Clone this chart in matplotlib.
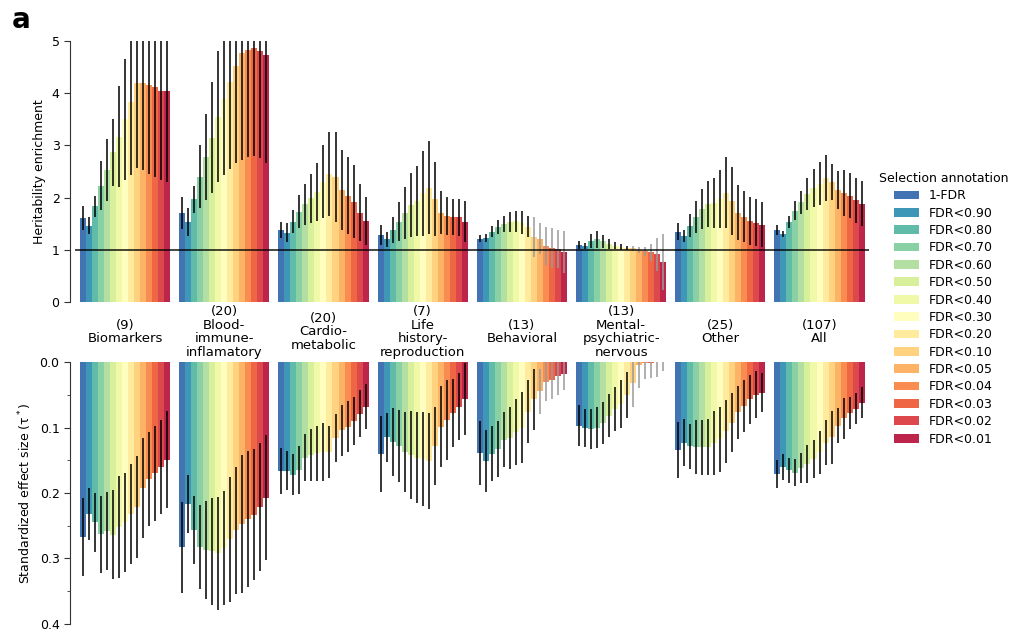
import numpy as np
import matplotlib.pyplot as plt
from matplotlib.patches import Patch
from matplotlib.transforms import blended_transform_factory

groups = ["(9)\nBiomarkers", "(20)\nBlood-\nimmune-\ninflamatory", "(20)\nCardio-\nmetabolic",
          "(7)\nLife\nhistory-\nreproduction", "(13)\nBehavioral",
          "(13)\nMental-\npsychiatric-\nnervous", "(25)\nOther", "(107)\nAll"]
annotations = ["1-FDR", "FDR<0.90", "FDR<0.80", "FDR<0.70", "FDR<0.60", "FDR<0.50",
               "FDR<0.40", "FDR<0.30", "FDR<0.20", "FDR<0.10", "FDR<0.05", "FDR<0.04",
               "FDR<0.03", "FDR<0.02", "FDR<0.01"]

# heritability enrichment (top)
enrichment = [
    [1.60, 1.46, 1.83, 2.23, 2.53, 2.87, 3.17, 3.50, 3.84, 4.20, 4.20, 4.16, 4.12, 4.04, 4.04],
    [1.71, 1.54, 1.97, 2.40, 2.78, 3.15, 3.55, 3.89, 4.22, 4.52, 4.78, 4.83, 4.86, 4.81, 4.73],
    [1.38, 1.33, 1.54, 1.73, 1.87, 1.99, 2.11, 2.30, 2.45, 2.39, 2.15, 2.04, 1.92, 1.71, 1.56],
    [1.28, 1.20, 1.38, 1.54, 1.70, 1.86, 1.94, 2.08, 2.19, 1.97, 1.71, 1.65, 1.63, 1.62, 1.54],
    [1.21, 1.22, 1.35, 1.44, 1.49, 1.53, 1.55, 1.52, 1.44, 1.25, 1.21, 1.07, 1.03, 1.01, 0.96],
    [1.09, 1.07, 1.17, 1.20, 1.16, 1.11, 1.08, 1.06, 1.04, 1.03, 1.00, 0.97, 0.95, 0.91, 0.77],
    [1.35, 1.26, 1.46, 1.63, 1.78, 1.88, 1.89, 1.97, 2.09, 1.93, 1.71, 1.63, 1.55, 1.52, 1.48],
    [1.38, 1.30, 1.53, 1.75, 1.91, 2.07, 2.18, 2.27, 2.37, 2.30, 2.15, 2.08, 2.04, 1.95, 1.88],
]
enrichment_err = [
    [0.23, 0.16, 0.21, 0.47, 0.60, 0.64, 0.96, 1.16, 1.41, 1.63, 1.67, 1.71, 1.72, 1.70, 1.75],
    [0.31, 0.27, 0.26, 0.60, 0.82, 1.07, 1.26, 1.46, 1.68, 1.86, 2.06, 2.05, 2.06, 2.06, 2.06],
    [0.16, 0.18, 0.22, 0.32, 0.40, 0.47, 0.56, 0.70, 0.80, 0.86, 0.77, 0.73, 0.70, 0.55, 0.46],
    [0.19, 0.14, 0.25, 0.37, 0.50, 0.62, 0.67, 0.82, 0.89, 0.71, 0.41, 0.36, 0.35, 0.36, 0.40],
    [0.07, 0.08, 0.11, 0.13, 0.15, 0.19, 0.20, 0.22, 0.20, 0.38, 0.30, 0.37, 0.38, 0.36, 0.40],
    [0.08, 0.06, 0.14, 0.16, 0.12, 0.10, 0.07, 0.06, 0.035, 0.05, 0.06, 0.09, 0.17, 0.31, 0.54],
    [0.17, 0.12, 0.22, 0.30, 0.39, 0.44, 0.48, 0.56, 0.68, 0.65, 0.53, 0.49, 0.46, 0.45, 0.43],
    [0.09, 0.06, 0.12, 0.18, 0.22, 0.30, 0.36, 0.41, 0.44, 0.35, 0.36, 0.44, 0.44, 0.43, 0.43],
]

# standardized effect size tau* (bottom)
tau_star = [
    [0.267, 0.232, 0.245, 0.263, 0.258, 0.264, 0.252, 0.245, 0.232, 0.221, 0.192, 0.179, 0.170, 0.160, 0.149],
    [0.283, 0.217, 0.256, 0.282, 0.287, 0.289, 0.292, 0.284, 0.271, 0.257, 0.247, 0.240, 0.233, 0.221, 0.207],
    [0.166, 0.166, 0.172, 0.165, 0.146, 0.142, 0.139, 0.137, 0.137, 0.116, 0.104, 0.099, 0.090, 0.079, 0.068],
    [0.141, 0.115, 0.122, 0.128, 0.138, 0.142, 0.146, 0.148, 0.151, 0.128, 0.099, 0.088, 0.078, 0.068, 0.057],
    [0.139, 0.151, 0.140, 0.133, 0.119, 0.116, 0.107, 0.100, 0.076, 0.057, 0.045, 0.030, 0.027, 0.022, 0.018],
    [0.097, 0.101, 0.102, 0.100, 0.093, 0.082, 0.072, 0.064, 0.050, 0.032, 0.005, 0.002, 0.001, 0.000, -0.004],
    [0.134, 0.123, 0.129, 0.130, 0.130, 0.130, 0.124, 0.118, 0.106, 0.093, 0.077, 0.067, 0.057, 0.050, 0.047],
    [0.171, 0.160, 0.165, 0.169, 0.162, 0.156, 0.148, 0.138, 0.123, 0.115, 0.097, 0.086, 0.078, 0.071, 0.062],
]
tau_star_err = [
    [0.059, 0.040, 0.045, 0.059, 0.060, 0.068, 0.078, 0.076, 0.076, 0.078, 0.076, 0.072, 0.072, 0.072, 0.074],
    [0.069, 0.044, 0.052, 0.064, 0.075, 0.082, 0.086, 0.087, 0.095, 0.097, 0.105, 0.104, 0.100, 0.098, 0.096],
    [0.035, 0.030, 0.031, 0.037, 0.036, 0.039, 0.042, 0.044, 0.040, 0.037, 0.039, 0.039, 0.037, 0.036, 0.035],
    [0.058, 0.037, 0.052, 0.055, 0.061, 0.067, 0.070, 0.072, 0.073, 0.060, 0.062, 0.061, 0.052, 0.051, 0.055],
    [0.049, 0.047, 0.042, 0.043, 0.042, 0.047, 0.050, 0.054, 0.048, 0.047, 0.035, 0.030, 0.030, 0.028, 0.025],
    [0.031, 0.029, 0.031, 0.032, 0.032, 0.033, 0.034, 0.036, 0.035, 0.036, 0.035, 0.024, 0.024, 0.023, 0.018],
    [0.043, 0.036, 0.035, 0.041, 0.042, 0.043, 0.049, 0.050, 0.048, 0.045, 0.040, 0.040, 0.037, 0.036, 0.030],
    [0.022, 0.020, 0.019, 0.021, 0.023, 0.029, 0.029, 0.033, 0.035, 0.040, 0.027, 0.031, 0.025, 0.024, 0.024],
]

# index of first non-significant (grey error bar) annotation per group
grey_top_from = [15, 15, 15, 15, 9, 9, 15, 15]
grey_bot_from = [15, 15, 15, 15, 10, 9, 15, 15]

colors = plt.get_cmap("Spectral_r")(np.linspace(0, 1, len(annotations) + 2)[1:-1])
n = len(annotations)
step = 16.5

fig = plt.figure(figsize=(10.1, 6.34), dpi=100)
ax1 = fig.add_axes([0.0693, 0.5237, 0.7927, 0.4116])
ax2 = fig.add_axes([0.0693, 0.0158, 0.7927, 0.4132])

for g in range(len(groups)):
    xs = g * step + np.arange(n)
    ax1.bar(xs, enrichment[g], width=1.0, color=colors, linewidth=0)
    ax2.bar(xs, tau_star[g], width=1.0, color=colors, linewidth=0)
    for i in range(n):
        c1 = "#9a9a9a" if i >= grey_top_from[g] else "black"
        c2 = "#9a9a9a" if i >= grey_bot_from[g] else "black"
        ax1.errorbar(xs[i], enrichment[g][i], yerr=enrichment_err[g][i], fmt="none",
                     ecolor=c1, elinewidth=1.3, alpha=0.85, capsize=0)
        ax2.errorbar(xs[i], tau_star[g][i], yerr=tau_star_err[g][i], fmt="none",
                     ecolor=c2, elinewidth=1.3, alpha=0.85, capsize=0)

xmin, xmax = -2.16, 131.0
ax1.hlines(1, -1.3, 130.8, color="black", lw=1.2, alpha=0.85, zorder=5)

ax1.set_xlim(xmin, xmax)
ax1.set_ylim(0, 5)
ax1.set_yticks([0, 1, 2, 3, 4, 5])
ax1.set_ylabel("Heritability enrichment", fontsize=9)

ax2.set_xlim(xmin, xmax)
ax2.set_ylim(0.4, 0)
ax2.set_yticks([0.0, 0.1, 0.2, 0.3, 0.4])
ax2.set_yticks(np.arange(0.05, 0.4, 0.1), minor=True)
ax2.set_ylabel("Standardized effect size (τ$^*$)", fontsize=9)

for ax in (ax1, ax2):
    for s in ("top", "right", "bottom"):
        ax.spines[s].set_visible(False)
    ax.spines["left"].set_color("#333333")
    ax.set_xticks([])
    ax.tick_params(axis="y", labelsize=9, length=4, color="#333333")
    ax.tick_params(axis="y", which="minor", length=2, color="#333333")

trans = blended_transform_factory(ax1.transData, ax1.transAxes)
for g, label in enumerate(groups):
    ax1.text(g * step + 7, -0.115, label, transform=trans, ha="center", va="center",
             fontsize=9.5, linespacing=1.05)

handles = [Patch(facecolor=c) for c in colors]
fig.legend(handles, annotations, title="Selection annotation", loc="center left",
           bbox_to_anchor=(0.859, 0.513), frameon=False, fontsize=9, title_fontsize=9,
           labelspacing=0.35)

fig.text(0.012, 0.956, "a", fontsize=20, fontweight="bold", va="baseline")

fig.savefig("out.png", dpi=100)
